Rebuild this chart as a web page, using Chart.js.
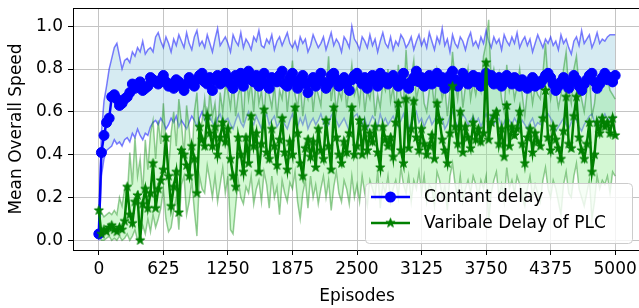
<!DOCTYPE html>
<html>
<head>
<meta charset="utf-8">
<script src="https://cdn.jsdelivr.net/npm/chart.js@4.4.1/dist/chart.umd.min.js"></script>
<style>
  html, body { margin: 0; padding: 0; background: #fff; overflow: hidden; }
  #wrap { width: 639px; height: 308px; overflow: hidden; }
</style>
</head>
<body>
<div id="wrap"><canvas id="speedChart" width="660" height="308" style="width:660px;height:308px"></canvas></div>
<script>
// Episodes every 25 steps, 0..5000
const episodes = Array.from({ length: 201 }, (_, i) => i * 25);
const xTicks = [0, 625, 1250, 1875, 2500, 3125, 3750, 4375, 5000];
const yTicks = [0, 0.2, 0.4, 0.6, 0.8, 1.0];

// Contant delay: mean, upper and lower band
const constMean = [
  0.03,0.41,0.49,0.55,0.57,0.67,0.68,0.66,0.63,0.64,0.66,0.67,0.69,0.73,0.71,0.72,0.74,0.70,0.71,0.72,0.76,0.75,0.74,0.73,0.75,
  0.77,0.74,0.72,0.73,0.71,0.75,0.74,0.72,0.70,0.73,0.76,0.74,0.72,0.75,0.77,0.78,0.74,0.73,0.76,0.70,0.75,0.77,0.73,0.74,0.78,
  0.76,0.73,0.71,0.77,0.74,0.78,0.72,0.75,0.79,0.76,0.74,0.77,0.72,0.75,0.78,0.73,0.71,0.76,0.75,0.74,0.77,0.79,0.73,0.72,0.76,
  0.78,0.74,0.71,0.75,0.77,0.73,0.69,0.74,0.76,0.72,0.75,0.78,0.74,0.71,0.73,0.77,0.78,0.75,0.72,0.74,0.76,0.73,0.70,0.75,0.77,
  0.78,0.75,0.73,0.76,0.71,0.74,0.77,0.75,0.72,0.78,0.74,0.76,0.73,0.75,0.77,0.74,0.72,0.75,0.78,0.73,0.71,0.74,0.76,0.79,0.74,
  0.76,0.72,0.75,0.77,0.73,0.75,0.78,0.74,0.76,0.71,0.73,0.77,0.79,0.75,0.72,0.74,0.78,0.76,0.73,0.75,0.77,0.74,0.76,0.72,0.75,
  0.78,0.75,0.77,0.73,0.75,0.76,0.72,0.74,0.77,0.75,0.73,0.76,0.74,0.72,0.75,0.73,0.71,0.74,0.76,0.72,0.74,0.73,0.75,0.77,0.78,
  0.76,0.73,0.70,0.72,0.74,0.76,0.73,0.71,0.74,0.77,0.75,0.72,0.70,0.73,0.75,0.77,0.78,0.74,0.71,0.73,0.76,0.78,0.75,0.76,0.74,
  0.77
];
const constUpper = [
  0.06,0.50,0.65,0.72,0.80,0.85,0.90,0.92,0.86,0.80,0.84,0.85,0.83,0.88,0.86,0.90,0.88,0.93,0.87,0.89,0.90,0.88,0.95,0.97,0.93,
  0.90,0.95,0.92,0.88,0.94,0.91,0.96,0.93,0.90,0.97,0.92,0.89,0.95,0.98,0.91,0.93,0.90,0.96,0.92,0.88,0.94,0.99,0.91,0.93,0.95,
  0.92,0.88,0.96,0.93,0.91,0.97,0.90,0.94,0.92,0.89,0.95,0.93,0.98,0.91,0.90,0.94,0.92,0.96,0.89,0.93,0.95,0.91,0.94,0.97,0.92,
  0.90,0.93,0.89,0.95,0.92,0.94,0.88,0.91,0.96,0.93,0.90,0.92,0.95,0.89,0.93,0.97,0.91,0.94,0.92,0.88,0.95,0.93,0.90,1.00,0.94,
  0.92,0.89,0.95,0.93,0.90,0.96,0.91,0.94,0.88,0.93,0.97,0.92,0.90,0.95,0.89,0.93,0.91,0.96,0.94,0.90,0.92,0.95,0.89,0.93,0.96,
  0.91,0.94,0.90,0.97,0.93,0.89,0.95,0.92,0.99,0.91,0.94,0.88,0.96,0.92,0.90,0.95,0.93,0.89,0.94,0.97,0.91,0.93,0.90,0.95,0.92,
  0.98,0.93,0.90,0.95,0.92,0.94,0.89,0.96,0.93,0.91,0.95,0.92,0.97,0.90,0.93,0.95,0.91,0.94,0.88,0.92,0.96,0.93,0.90,0.94,0.92,
  0.95,0.91,0.93,0.89,0.96,0.92,0.94,0.90,0.87,0.93,0.95,0.91,0.98,0.92,0.94,0.96,0.90,0.93,0.97,0.92,0.94,0.93,0.95,0.96,0.96,
  0.96
];
const constLower = [
  0.00,0.30,0.38,0.42,0.43,0.44,0.47,0.45,0.46,0.44,0.47,0.48,0.46,0.50,0.48,0.52,0.49,0.47,0.50,0.49,0.53,0.55,0.56,0.54,0.57,
  0.55,0.52,0.54,0.57,0.55,0.58,0.53,0.56,0.54,0.52,0.55,0.58,0.56,0.53,0.57,0.60,0.56,0.54,0.58,0.55,0.53,0.57,0.59,0.55,0.56,
  0.57,0.54,0.52,0.56,0.59,0.55,0.53,0.57,0.60,0.56,0.54,0.58,0.55,0.52,0.57,0.59,0.54,0.56,0.58,0.53,0.55,0.57,0.54,0.52,0.56,
  0.59,0.55,0.53,0.57,0.54,0.58,0.52,0.55,0.57,0.54,0.56,0.59,0.55,0.52,0.54,0.58,0.60,0.56,0.53,0.55,0.57,0.54,0.51,0.56,0.58,
  0.59,0.56,0.54,0.57,0.52,0.55,0.58,0.56,0.53,0.59,0.55,0.57,0.54,0.56,0.58,0.55,0.53,0.56,0.59,0.54,0.52,0.55,0.57,0.60,0.55,
  0.57,0.53,0.56,0.58,0.54,0.56,0.59,0.55,0.57,0.52,0.54,0.58,0.60,0.56,0.53,0.55,0.59,0.57,0.54,0.56,0.58,0.55,0.57,0.53,0.56,
  0.59,0.56,0.58,0.54,0.56,0.57,0.53,0.55,0.58,0.56,0.54,0.57,0.55,0.53,0.56,0.54,0.52,0.55,0.57,0.53,0.55,0.54,0.56,0.58,0.59,
  0.57,0.54,0.51,0.53,0.55,0.57,0.54,0.52,0.55,0.58,0.56,0.53,0.51,0.54,0.56,0.58,0.59,0.55,0.52,0.54,0.57,0.59,0.56,0.57,0.55,
  0.58
];

// Varibale Delay of PLC: mean, upper and lower band
const plcMean = [
  0.14,0.03,0.05,0.04,0.06,0.07,0.05,0.04,0.06,0.05,0.09,0.25,0.12,0.08,0.18,0.21,0.00,0.17,0.24,0.15,0.22,0.36,0.15,0.24,0.28,
  0.33,0.48,0.30,0.16,0.25,0.32,0.13,0.42,0.40,0.35,0.30,0.44,0.38,0.22,0.53,0.47,0.44,0.58,0.50,0.44,0.53,0.40,0.48,0.55,0.46,
  0.52,0.38,0.30,0.25,0.48,0.40,0.32,0.48,0.36,0.58,0.44,0.50,0.32,0.45,0.61,0.41,0.38,0.52,0.44,0.35,0.47,0.57,0.41,0.33,0.46,
  0.40,0.62,0.50,0.36,0.30,0.43,0.47,0.39,0.46,0.34,0.52,0.42,0.38,0.56,0.44,0.33,0.62,0.48,0.40,0.36,0.46,0.41,0.50,0.62,0.40,
  0.44,0.56,0.40,0.53,0.42,0.50,0.46,0.53,0.41,0.34,0.53,0.47,0.44,0.48,0.39,0.55,0.64,0.42,0.36,0.66,0.43,0.52,0.65,0.48,0.42,
  0.52,0.45,0.40,0.44,0.49,0.38,0.64,0.56,0.47,0.42,0.36,0.50,0.72,0.53,0.45,0.60,0.41,0.53,0.48,0.43,0.55,0.47,0.52,0.46,0.50,
  0.83,0.47,0.55,0.58,0.60,0.45,0.52,0.39,0.63,0.44,0.53,0.49,0.52,0.60,0.45,0.36,0.48,0.52,0.41,0.50,0.46,0.44,0.57,0.70,0.48,
  0.42,0.53,0.47,0.43,0.38,0.51,0.67,0.45,0.43,0.58,0.67,0.48,0.42,0.38,0.45,0.55,0.32,0.40,0.55,0.50,0.57,0.53,0.55,0.50,0.57,
  0.49
];
const plcUpper = [
  0.17,0.13,0.11,0.12,0.13,0.12,0.14,0.12,0.20,0.16,0.24,0.20,0.41,0.26,0.48,0.30,0.38,0.22,0.47,0.33,0.50,0.56,0.38,0.56,0.45,
  0.64,0.46,0.32,0.50,0.60,0.44,0.66,0.55,0.40,0.63,0.52,0.36,0.60,0.69,0.48,0.56,0.66,0.52,0.70,0.58,0.64,0.50,0.69,0.60,0.72,
  0.70,0.62,0.75,0.58,0.68,0.72,0.55,0.80,0.66,0.74,0.60,0.78,0.64,0.70,0.58,0.76,0.68,0.62,0.73,0.57,0.70,0.66,0.78,0.60,0.72,
  0.84,0.68,0.62,0.74,0.58,0.70,0.66,0.77,0.60,0.72,0.68,0.63,0.80,0.70,0.86,0.65,0.74,0.60,0.70,0.66,0.78,0.62,0.72,0.82,0.68,
  0.72,0.64,0.78,0.60,0.70,0.66,0.75,0.58,0.68,0.62,0.74,0.70,0.80,0.65,0.72,0.60,0.82,0.68,0.64,0.89,0.70,0.76,0.84,0.66,0.72,
  0.78,0.64,0.60,0.70,0.74,0.62,0.80,0.76,0.66,0.72,0.58,0.70,0.88,0.74,0.66,0.78,0.62,0.72,0.80,0.66,0.74,0.68,0.76,0.70,0.86,
  0.92,1.03,0.74,0.80,0.72,0.78,0.66,0.60,0.82,0.70,0.76,0.66,0.72,0.80,0.68,0.58,0.70,0.74,0.64,0.72,0.68,0.66,0.78,0.92,0.74,
  0.66,0.74,0.70,0.62,0.68,0.80,0.88,0.70,0.64,0.80,0.86,0.72,0.66,0.60,0.70,0.78,0.58,0.64,0.76,0.70,0.78,0.74,0.76,0.70,0.68,
  0.66
];
const plcLower = [
  0.02,0.00,0.00,0.01,0.02,0.00,0.01,0.00,0.02,0.00,0.01,0.03,0.00,0.02,0.05,0.00,0.02,0.07,0.03,0.10,0.04,0.12,0.06,0.10,0.15,
  0.24,0.10,0.04,0.06,0.14,0.20,0.05,0.26,0.30,0.12,0.18,0.28,0.14,0.02,0.30,0.24,0.22,0.35,0.28,0.20,0.30,0.18,0.26,0.34,0.22,
  0.30,0.05,0.03,0.16,0.28,0.20,0.17,0.25,0.22,0.30,0.17,0.24,0.28,0.18,0.32,0.26,0.15,0.30,0.20,0.25,0.12,0.28,0.22,0.18,0.27,
  0.24,0.32,0.18,0.10,0.22,0.28,0.15,0.30,0.20,0.26,0.17,0.24,0.30,0.20,0.28,0.14,0.25,0.32,0.22,0.18,0.28,0.24,0.17,0.30,0.20,
  0.26,0.18,0.30,0.22,0.16,0.28,0.24,0.20,0.32,0.15,0.26,0.22,0.30,0.18,0.24,0.28,0.20,0.34,0.26,0.22,0.30,0.18,0.28,0.24,0.32,
  0.22,0.30,0.18,0.26,0.24,0.16,0.32,0.28,0.20,0.25,0.14,0.30,0.36,0.26,0.20,0.30,0.18,0.24,0.28,0.22,0.30,0.26,0.20,0.28,0.24,
  0.30,0.08,0.22,0.28,0.32,0.20,0.26,0.18,0.34,0.24,0.28,0.22,0.30,0.26,0.20,0.16,0.24,0.30,0.20,0.26,0.22,0.18,0.28,0.34,0.24,
  0.20,0.28,0.24,0.18,0.12,0.26,0.32,0.22,0.20,0.30,0.36,0.24,0.20,0.16,0.22,0.28,0.10,0.18,0.30,0.24,0.28,0.26,0.30,0.22,0.32,
  0.30
];

const FONT = "'DejaVu Sans', sans-serif";

function toPoints(values) {
  return episodes.map((e, i) => ({ x: e, y: values[i] }));
}

// filled 5-point star marker like matplotlib '*'
function makeStar(color, outer) {
  const size = Math.ceil(outer * 2 + 3);
  const c = document.createElement("canvas");
  c.width = size;
  c.height = size;
  const g = c.getContext("2d");
  const inner = outer * 0.382;
  g.beginPath();
  for (let k = 0; k < 10; k++) {
    const r = k % 2 === 0 ? outer : inner;
    const a = -Math.PI / 2 + (k * Math.PI) / 5;
    const px = size / 2 + r * Math.cos(a);
    const py = size / 2 + r * Math.sin(a);
    if (k === 0) g.moveTo(px, py);
    else g.lineTo(px, py);
  }
  g.closePath();
  g.fillStyle = color;
  g.fill();
  g.strokeStyle = color;
  g.lineWidth = 1;
  g.stroke();
  return c;
}
const starImg = makeStar("#008000", 4.8);

// top spine + legend inside the axes (lower right)
const extras = {
  id: "extras",
  afterDraw(chart) {
    const { ctx, chartArea } = chart;
    ctx.save();
    ctx.strokeStyle = "#000";
    ctx.lineWidth = 1;
    ctx.beginPath();
    ctx.moveTo(chartArea.left, chartArea.top + 0.5);
    ctx.lineTo(chartArea.right, chartArea.top + 0.5);
    ctx.stroke();

    // legend box
    const bx = 365, by = 183, bw = 267, bh = 60, r = 4;
    ctx.fillStyle = "rgba(255,255,255,0.8)";
    ctx.strokeStyle = "#cccccc";
    ctx.beginPath();
    ctx.roundRect(bx + 0.5, by + 0.5, bw, bh, r);
    ctx.fill();
    ctx.stroke();

    const rows = [
      { label: chart.data.datasets[4].label, color: "#0000ff", y: 197, marker: "circle" },
      { label: chart.data.datasets[5].label, color: "#008000", y: 223, marker: "star" },
    ];
    rows.forEach((row) => {
      ctx.strokeStyle = row.color;
      ctx.lineWidth = 2.5;
      ctx.beginPath();
      ctx.moveTo(371, row.y);
      ctx.lineTo(410, row.y);
      ctx.stroke();
      if (row.marker === "circle") {
        ctx.fillStyle = row.color;
        ctx.beginPath();
        ctx.arc(390.5, row.y, 5.5, 0, Math.PI * 2);
        ctx.fill();
      } else {
        ctx.drawImage(starImg, 390.5 - starImg.width / 2, row.y - starImg.height / 2);
      }
      ctx.fillStyle = "#000";
      ctx.font = "17px " + FONT;
      ctx.textBaseline = "middle";
      ctx.textAlign = "left";
      ctx.fillText(row.label, 424, row.y + 1);
    });
    ctx.restore();
  },
};

const ctx = document.getElementById("speedChart").getContext("2d");
const speedChart = new Chart(ctx, {
  type: "line",
  data: {
    datasets: [
      {
        label: "const upper",
        data: toPoints(constUpper),
        borderColor: "rgba(0,0,255,0.5)",
        backgroundColor: "rgba(173,216,230,0.5)",
        borderWidth: 1.5,
        pointRadius: 0,
        fill: "+1",
        order: 6,
      },
      {
        label: "const lower",
        data: toPoints(constLower),
        borderColor: "rgba(0,0,255,0.5)",
        borderWidth: 1.5,
        pointRadius: 0,
        fill: false,
        order: 5,
      },
      {
        label: "plc upper",
        data: toPoints(plcUpper),
        borderColor: "rgba(0,128,0,0.4)",
        backgroundColor: "rgba(144,238,144,0.4)",
        borderWidth: 1.5,
        pointRadius: 0,
        fill: "+1",
        order: 4,
      },
      {
        label: "plc lower",
        data: toPoints(plcLower),
        borderColor: "rgba(0,128,0,0.4)",
        borderWidth: 1.5,
        pointRadius: 0,
        fill: false,
        order: 3,
      },
      {
        label: "Contant delay",
        data: toPoints(constMean),
        borderColor: "#0000ff",
        backgroundColor: "#0000ff",
        borderWidth: 2.5,
        pointRadius: 5,
        pointBorderWidth: 1,
        pointStyle: "circle",
        fill: false,
        order: 2,
      },
      {
        label: "Varibale Delay of PLC",
        data: toPoints(plcMean),
        borderColor: "#008000",
        backgroundColor: "#008000",
        borderWidth: 2.5,
        pointStyle: starImg,
        fill: false,
        order: 1,
      },
    ],
  },
  options: {
    responsive: false,
    animation: false,
    events: [],
    layout: { padding: { top: 8, right: 19, left: 0, bottom: 0 } },
    elements: { line: { tension: 0 } },
    plugins: {
      legend: { display: false },
      tooltip: { enabled: false },
    },
    scales: {
      x: {
        type: "linear",
        min: -250,
        max: 5250,
        afterBuildTicks: (s) => { s.ticks = xTicks.map((v) => ({ value: v })); },
        afterFit: (s) => { s.height = 58; s.paddingLeft = 0; s.paddingRight = 0; },
        ticks: {
          color: "#000",
          font: { family: FONT, size: 17 },
          padding: 4,
          maxRotation: 0,
          autoSkip: false,
          callback: (v) => String(v),
        },
        grid: { color: "#c4c4c4", lineWidth: 1, tickColor: "#000", tickLength: 5 },
        border: { display: true, color: "#000", width: 1 },
        title: {
          display: true,
          text: "Episodes",
          color: "#000",
          font: { family: FONT, size: 17 },
          padding: { top: 0, bottom: 1 },
        },
      },
      y: {
        type: "linear",
        min: -0.045,
        max: 1.085,
        afterBuildTicks: (s) => { s.ticks = yTicks.map((v) => ({ value: v })); },
        afterFit: (s) => { s.width = 73; s.paddingTop = 0; s.paddingBottom = 0; },
        ticks: {
          color: "#000",
          font: { family: FONT, size: 17 },
          padding: 5,
          callback: (v) => v.toFixed(1),
        },
        grid: { color: "#c4c4c4", lineWidth: 1, tickColor: "#000", tickLength: 5 },
        border: { display: true, color: "#000", width: 1 },
        title: {
          display: true,
          text: "Mean Overall Speed",
          color: "#000",
          font: { family: FONT, size: 17 },
          padding: { top: 6, bottom: 0 },
        },
      },
    },
  },
  plugins: [extras],
});
</script>
</body>
</html>
